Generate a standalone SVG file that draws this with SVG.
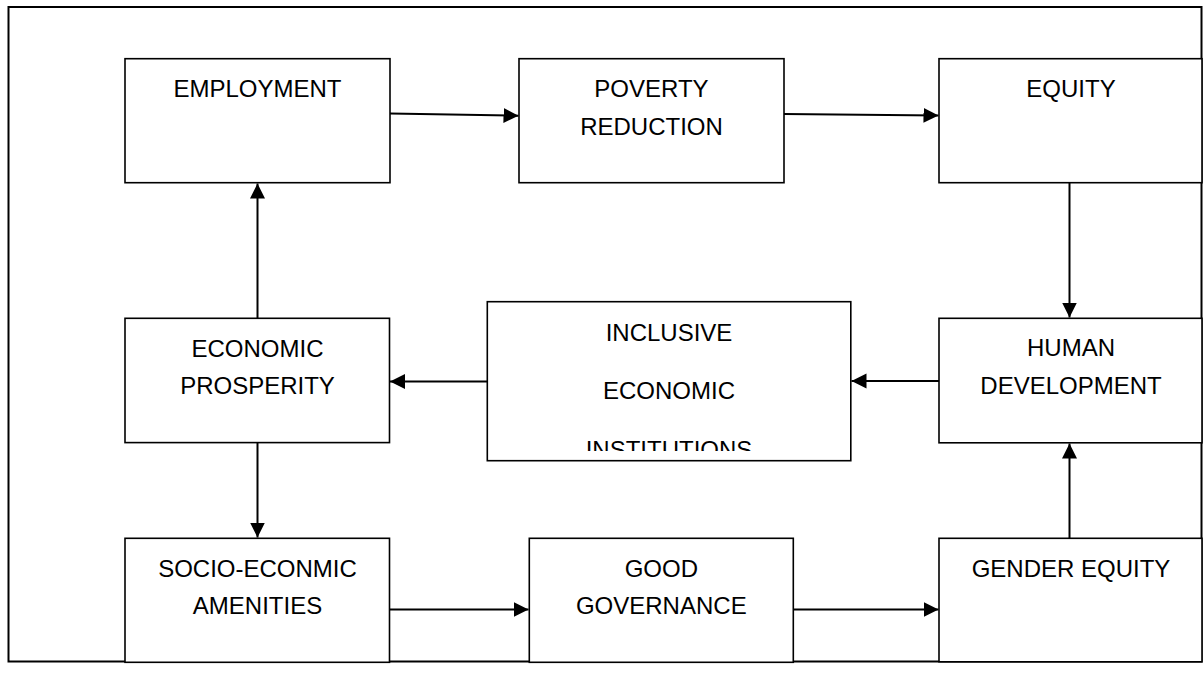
<svg xmlns="http://www.w3.org/2000/svg" width="1204" height="691" viewBox="0 0 1204 691">
  <style>
    .box { fill: #ffffff; stroke: #000000; stroke-width: 1.6; }
    .lbl { font-family: "Liberation Sans", Arial, sans-serif; font-size: 24px; fill: #000000; text-anchor: middle; }
    .conn { stroke: #000000; stroke-width: 2; fill: none; marker-end: url(#arrow); }
  </style>
  <defs>
    <marker id="arrow" markerUnits="userSpaceOnUse" markerWidth="16" markerHeight="16" refX="15" refY="7.5" orient="auto">
      <path d="M0,0 L15,7.5 L0,15 Z" fill="#000000"/>
    </marker>
    <clipPath id="clipInc">
      <rect x="488" y="302" width="362" height="149"/>
    </clipPath>
  </defs>
  <rect x="0" y="0" width="1204" height="691" fill="#ffffff"/>
  <rect x="8.5" y="7" width="1193" height="654.5" fill="none" stroke="#000000" stroke-width="2"/>

  <g id="connectors">
    <line class="conn" x1="390" y1="113.5" x2="518.5" y2="115.7"/>
    <line class="conn" x1="784" y1="114" x2="938.5" y2="115.5"/>
    <line class="conn" x1="1069.5" y1="182.5" x2="1069.5" y2="317.5"/>
    <line class="conn" x1="939" y1="381" x2="851.5" y2="381"/>
    <line class="conn" x1="487.5" y1="381.5" x2="390" y2="381.5"/>
    <line class="conn" x1="257.5" y1="318" x2="257.5" y2="183.5"/>
    <line class="conn" x1="257.5" y1="442.5" x2="257.5" y2="537.5"/>
    <line class="conn" x1="389.5" y1="609.5" x2="528.5" y2="609.5"/>
    <line class="conn" x1="793.5" y1="609.5" x2="938.5" y2="609.5"/>
    <line class="conn" x1="1069.5" y1="538" x2="1069.5" y2="443.5"/>
  </g>

  <g id="employment">
    <rect class="box" x="125" y="58.7" width="265" height="124"/>
    <text class="lbl" x="257.5" y="97">EMPLOYMENT</text>
  </g>
  <g id="poverty-reduction">
    <rect class="box" x="519" y="58.7" width="265" height="124"/>
    <text class="lbl" x="651.5" y="96.7">POVERTY</text>
    <text class="lbl" x="651.5" y="135">REDUCTION</text>
  </g>
  <g id="equity">
    <rect class="box" x="939" y="58.7" width="263" height="124"/>
    <text class="lbl" x="1071" y="96.7">EQUITY</text>
  </g>
  <g id="economic-prosperity">
    <rect class="box" x="125" y="318.3" width="264.5" height="124.3"/>
    <text class="lbl" x="257.5" y="356.7">ECONOMIC</text>
    <text class="lbl" x="257.5" y="394.3">PROSPERITY</text>
  </g>
  <g id="inclusive-economic-institutions">
    <rect class="box" x="487.3" y="301.7" width="363.5" height="159"/>
    <g clip-path="url(#clipInc)">
      <text class="lbl" x="669" y="340.7">INCLUSIVE</text>
      <text class="lbl" x="669" y="399.3">ECONOMIC</text>
      <text class="lbl" x="669" y="458">INSTITUTIONS</text>
    </g>
  </g>
  <g id="human-development">
    <rect class="box" x="939" y="318.3" width="263" height="124.5"/>
    <text class="lbl" x="1071" y="356">HUMAN</text>
    <text class="lbl" x="1071" y="394.3">DEVELOPMENT</text>
  </g>
  <g id="socio-economic-amenities">
    <rect class="box" x="125" y="538.3" width="264.5" height="124"/>
    <text class="lbl" x="257.5" y="576.7">SOCIO-ECONMIC</text>
    <text class="lbl" x="257.5" y="614.3">AMENITIES</text>
  </g>
  <g id="good-governance">
    <rect class="box" x="529.3" y="538.3" width="264" height="124"/>
    <text class="lbl" x="661.3" y="576.7">GOOD</text>
    <text class="lbl" x="661.3" y="614.3">GOVERNANCE</text>
  </g>
  <g id="gender-equity">
    <rect class="box" x="939" y="538.3" width="263" height="123.5"/>
    <text class="lbl" x="1071" y="576.7">GENDER EQUITY</text>
  </g>
</svg>
